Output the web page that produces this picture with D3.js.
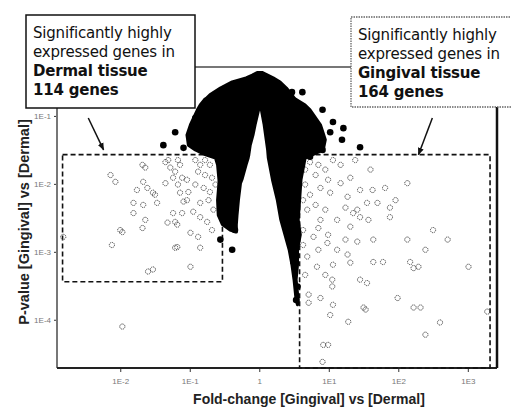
<!DOCTYPE html>
<html>
<head>
<meta charset="utf-8">
<script src="https://cdn.jsdelivr.net/npm/d3@7"></script>
<style>
  body { margin: 0; background: #fff; }
  svg { display: block; }
</style>
</head>
<body>
<div id="chart"></div>
<script>
// values are log10(fold-change) and -log10(p-value)
var xTicks = [-2, -1, 0, 1, 2, 3];
var yTicks = [1, 2, 3, 4];

// outline of the dense non-significant cloud
var capNlp   = [0.36, 0.40, 0.44, 0.50, 0.59, 0.69, 0.76];
var capLeft  = [-0.03, -0.10, -0.19, -0.39, -0.56, -0.71, -0.78];
var capRight = [0.04, 0.12, 0.20, 0.30, 0.39, 0.47, 0.52];

var leftArmNlp   = [0.75, 0.84, 0.91, 1.13, 1.28, 1.43, 1.50, 1.57, 1.62, 1.72, 1.94, 1.99, 2.24, 2.46, 2.60, 2.68, 2.71];
var leftArmOuter = [-0.78, -0.85, -0.89, -0.99, -1.04, -1.02, -0.92, -0.78, -0.63, -0.60, -0.58, -0.58, -0.60, -0.59, -0.53, -0.42, -0.33];
var leftArmInner = [0.00, 0.00, -0.01, -0.06, -0.09, -0.13, -0.14, -0.15, -0.16, -0.19, -0.25, -0.27, -0.30, -0.32, -0.33, -0.33, -0.33];

var rightArmNlp   = [0.75, 0.84, 0.91, 1.13, 1.35, 1.50, 1.62, 1.94, 2.24, 2.53, 2.75, 2.97, 3.19, 3.41, 3.71, 3.78];
var rightArmInner = [0.01, 0.02, 0.03, 0.07, 0.10, 0.12, 0.13, 0.19, 0.26, 0.31, 0.37, 0.43, 0.47, 0.50, 0.53, 0.55];
var rightArmOuter = [0.52, 0.66, 0.73, 0.88, 0.95, 0.92, 0.66, 0.60, 0.58, 0.56, 0.59, 0.55, 0.55, 0.53, 0.56, 0.55];

// scattered non-significant genes at the cloud's edge
var otherGenes = [
  [0.47, 0.65], [0.62, 0.65], [0.91, 0.91], [1.06, 1.09], [1.21, 1.18], [1.19, 1.35], [1.45, 1.46],
  [-0.73, 0.79], [-1.38, 1.43], [-1.09, 1.47], [-1.21, 1.24],
  [-0.92, 1.03], [-0.85, 1.21], [-0.99, 1.35], [-0.78, 1.47], [-0.66, 1.57],
  [0.81, 1.35], [0.91, 1.50], [0.73, 1.60], [1.02, 1.24],
  [-0.35, 2.68], [-0.39, 2.97], [-0.56, 2.82],
  [0.45, 2.78], [0.49, 3.04], [0.49, 3.15], [0.55, 3.51], [0.53, 3.71]
];

// significantly higher in dermal tissue
var dermalGenes = [
  [-1.68, 1.72], [-1.64, 1.76], [-2.14, 1.87], [-2.07, 1.97], [-1.76, 2.09], [-1.61, 2.06], [-1.50, 2.16],
  [-1.35, 1.68], [-1.28, 1.76], [-1.21, 1.82], [-1.14, 1.72], [-1.11, 1.91], [-1.04, 1.94], [-1.35, 1.99],
  [-1.67, 1.97], [-1.14, 2.13], [-1.02, 2.12], [-1.04, 2.24], [-1.81, 2.28], [-1.67, 2.31], [-1.47, 2.28],
  [-0.85, 2.28], [-1.81, 2.43], [-1.11, 2.43], [-0.95, 2.41], [-0.85, 2.49], [-1.32, 2.57], [-1.21, 2.56],
  [-1.18, 2.60], [-1.64, 2.53], [-2.00, 2.68], [-1.97, 2.71], [-1.68, 2.65], [-2.82, 2.78], [-0.99, 2.72],
  [-0.88, 2.78], [-2.12, 2.90], [-1.18, 2.93], [-0.85, 2.94], [-0.99, 3.22], [-1.60, 3.29], [-1.53, 2.13],
  [-1.24, 2.43], [-1.21, 2.94], [-1.53, 3.26], [-1.09, 2.26], [-0.73, 2.24], [-0.66, 2.38],
  [-0.92, 1.65], [-0.85, 1.72], [-0.78, 1.65], [-0.71, 1.72], [-0.88, 1.82], [-0.78, 1.87], [-0.68, 1.91],
  [-0.92, 2.01], [-0.80, 2.06], [-0.71, 2.12], [-0.63, 2.01], [-0.75, 2.56], [-0.68, 2.68],
  [-1.31, 1.65], [-1.17, 1.65], [-1.24, 1.91], [-1.17, 2.01], [-1.97, 4.10]
];

// significantly higher in gingival tissue
var gingivalGenes = [
  [2.13, 1.99], [1.55, 2.28], [1.70, 2.28], [1.88, 2.35], [1.35, 2.43], [1.45, 2.49], [1.57, 2.53],
  [1.88, 2.49], [2.50, 2.68], [2.71, 2.82], [2.13, 2.82], [1.64, 2.82], [1.41, 2.85], [2.39, 2.97],
  [2.17, 3.15], [2.22, 3.24], [2.29, 3.22], [1.78, 3.15], [1.64, 3.15], [1.45, 3.41], [1.55, 3.46],
  [1.05, 3.41], [1.05, 3.51], [3.01, 3.22], [1.99, 3.68], [2.22, 3.82], [2.32, 3.82], [1.53, 3.85],
  [1.06, 3.78], [1.02, 3.93], [0.88, 3.68], [0.71, 3.63], [3.28, 3.88], [2.60, 4.04], [1.28, 4.03],
  [2.39, 4.22], [0.92, 4.37], [0.99, 4.37], [0.91, 4.62],
  [0.73, 2.16], [1.02, 2.13], [1.27, 2.19], [1.41, 2.38], [0.69, 2.38], [0.88, 2.53], [1.12, 2.53],
  [1.31, 2.63], [0.78, 2.78], [0.98, 2.87], [1.12, 2.97], [1.27, 3.04], [0.69, 3.07], [0.83, 3.22],
  [1.06, 3.19], [1.31, 3.16], [1.50, 3.82], [0.71, 3.75],
  [0.62, 1.65], [0.73, 1.68], [0.85, 1.72], [0.66, 1.79], [0.81, 1.87], [0.95, 1.79], [1.06, 1.65],
  [1.17, 1.72], [0.99, 1.94], [0.66, 2.01], [0.88, 2.06], [1.17, 1.99], [1.31, 1.91], [1.45, 2.09],
  [0.63, 2.24], [0.81, 2.31], [0.95, 2.38], [1.24, 2.35], [0.63, 2.68], [0.85, 2.65], [0.99, 2.75],
  [1.24, 2.82], [0.63, 2.90], [0.85, 2.97], [0.66, 3.34], [0.95, 3.34], [1.60, 1.79], [1.81, 2.06],
  [1.63, 2.09], [1.96, 2.24], [1.38, 1.65]
];

// selection boxes [fc0, fc1, nlp0, nlp1] and callout arrows [from, to]
var dermalBox   = [-2.83, -0.53, 1.57, 3.44];
var gingivalBox = [0.58, 3.32, 1.57, 4.71];
var dermalArrow   = [[-2.46, 1.03], [-2.24, 1.50]];
var gingivalArrow = [[2.49, 1.03], [2.29, 1.57]];

var dermalNote   = ["Significantly highly", "expressed genes in", "Dermal tissue", "114 genes"];
var gingivalNote = ["Significantly highly", "expressed genes in", "Gingival tissue", "164 genes"];

var W = 511, H = 415;
var margin = {top: 67, right: 14, bottom: 47, left: 57};
var width = W - margin.left - margin.right,
    height = H - margin.top - margin.bottom;

var svg = d3.select("#chart").append("svg")
  .attr("width", W)
  .attr("height", H)
  .style("font-family", "'Liberation Sans', Arial, sans-serif");

var defs = svg.append("defs");
defs.append("marker")
  .attr("id", "head")
  .attr("viewBox", "0 0 10 10")
  .attr("refX", 9).attr("refY", 5)
  .attr("markerWidth", 5).attr("markerHeight", 5)
  .attr("orient", "auto")
  .append("path")
    .attr("d", "M0,1 L10,5 L0,9 z")
    .attr("fill", "#111");

var g = svg.append("g")
  .attr("transform", "translate(" + margin.left + "," + margin.top + ")");

var x = d3.scaleLinear().domain([-2.91, 3.42]).range([0, width]);
var y = d3.scaleLinear().domain([0.28, 4.71]).range([0, height]);

// axes
var xAxis = d3.axisBottom(x).tickValues(xTicks).tickSize(4)
  .tickFormat(function(d){ return d === 0 ? "1" : "1E" + d; });
var yAxis = d3.axisLeft(y).tickValues(yTicks).tickSize(3)
  .tickFormat(function(d){ return "1E-" + d; });

var gx = g.append("g").attr("transform", "translate(0," + height + ")").call(xAxis);
var gy = g.append("g").call(yAxis);
[gx, gy].forEach(function(a){
  a.select(".domain").remove();
  a.selectAll("line").attr("stroke", "#333");
  a.selectAll("text").attr("fill", "#777").style("font-size", "8px");
});
gx.selectAll("text").attr("dy", "1.1em");

// frame
g.append("line").attr("x1", 0).attr("x2", 0).attr("y1", 0).attr("y2", height)
  .attr("stroke", "#777").attr("stroke-width", 2);
g.append("line").attr("x1", 0).attr("x2", width).attr("y1", 0).attr("y2", 0)
  .attr("stroke", "#777").attr("stroke-width", 2);
g.append("line").attr("x1", 0).attr("x2", width).attr("y1", height).attr("y2", height)
  .attr("stroke", "#222").attr("stroke-width", 2);
g.append("line").attr("x1", width).attr("x2", width).attr("y1", 0).attr("y2", height)
  .attr("stroke", "#111").attr("stroke-width", 2.5);

// threshold boxes
[dermalBox, gingivalBox].forEach(function(b){
  g.append("rect")
    .attr("x", x(b[0])).attr("y", y(b[2]))
    .attr("width", x(b[1]) - x(b[0]))
    .attr("height", y(b[3]) - y(b[2]))
    .attr("fill", "none")
    .attr("stroke", "#111")
    .attr("stroke-width", 1.6)
    .attr("stroke-dasharray", "5,3");
});

// significant genes
function openDots(data) {
  g.append("g").selectAll("circle")
    .data(data)
    .enter()
    .append("circle")
      .attr("cx", function(d){ return x(d[0]); })
      .attr("cy", function(d){ return y(d[1]); })
      .attr("r", 2.6)
      .attr("fill", "none")
      .attr("stroke", "#444")
      .attr("stroke-width", 1)
      .attr("stroke-dasharray", "1.2,0.8");
}
openDots(dermalGenes);
openDots(gingivalGenes);

// dense cloud
var area = d3.area()
  .y(function(d){ return y(d.n); })
  .x0(function(d){ return x(d.a); })
  .x1(function(d){ return x(d.b); });

function zip(n, a, b) {
  return n.map(function(v, i){ return {n: v, a: a[i], b: b[i]}; });
}

var cloud = g.append("g");
[zip(capNlp, capLeft, capRight),
 zip(leftArmNlp, leftArmOuter, leftArmInner),
 zip(rightArmNlp, rightArmInner, rightArmOuter)].forEach(function(d){
  cloud.append("path")
    .attr("d", area(d))
    .attr("fill", "#000")
    .attr("stroke", "#000")
    .attr("stroke-width", 3)
    .attr("stroke-linejoin", "round");
});

cloud.selectAll("circle")
  .data(otherGenes)
  .enter()
  .append("circle")
    .attr("cx", function(d){ return x(d[0]); })
    .attr("cy", function(d){ return y(d[1]); })
    .attr("r", 3.3)
    .attr("fill", "#000");

// callout arrows
[dermalArrow, gingivalArrow].forEach(function(a){
  g.append("line")
    .attr("x1", x(a[0][0])).attr("y1", y(a[0][1]))
    .attr("x2", x(a[1][0])).attr("y2", y(a[1][1]))
    .attr("stroke", "#111")
    .attr("stroke-width", 1.5)
    .attr("marker-end", "url(#head)");
});

// callout boxes
function note(lines, bx, by, bw, bh, solid) {
  var n = svg.append("g");
  n.append("rect")
    .attr("x", bx).attr("y", by)
    .attr("width", bw).attr("height", bh)
    .attr("fill", "#fff")
    .attr("stroke", solid ? "#111" : "#666")
    .attr("stroke-width", solid ? 1.5 : 1.3)
    .attr("stroke-dasharray", solid ? null : "1.5,1");
  n.selectAll("text")
    .data(lines)
    .enter()
    .append("text")
      .attr("x", bx + 7)
      .attr("y", function(d, i){ return by + 23 + i * 19; })
      .style("font-family", "'DejaVu Sans', sans-serif")
      .style("font-size", "15px")
      .style("letter-spacing", "-0.2px")
      .style("font-weight", function(d, i){ return i >= 2 ? "bold" : "normal"; })
      .attr("fill", "#111")
      .text(function(d){ return d; });
}
note(dermalNote, 26, 15, 169, 93, true);
note(gingivalNote, 351, 17, 170, 90, false);

// axis titles
svg.append("text")
  .attr("x", 309)
  .attr("y", 404)
  .attr("text-anchor", "middle")
  .style("font-size", "14px")
  .style("font-weight", "bold")
  .attr("fill", "#222")
  .text("Fold-change [Gingival] vs [Dermal]");

svg.append("text")
  .attr("transform", "translate(29," + 222 + ") rotate(-90)")
  .attr("text-anchor", "middle")
  .style("font-size", "14.5px")
  .style("font-weight", "bold")
  .attr("fill", "#222")
  .text("P-value [Gingival] vs [Dermal]");
</script>
</body>
</html>
